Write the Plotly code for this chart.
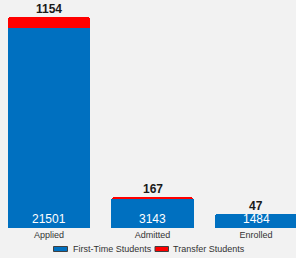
import plotly.graph_objects as go

categories = ["Applied", "Admitted", "Enrolled"]
first_time = [21501, 3143, 1484]
transfer = [1154, 167, 47]
series_names = ["First-Time Students", "Transfer Students"]
totals = [a + b for a, b in zip(first_time, transfer)]

BLUE = "#0070C0"
RED = "#FF0000"
BG = "#F2F2F2"
FONT = "Liberation Sans, Arial, sans-serif"
TXT = "#333333"

fig = go.Figure()
fig.add_trace(go.Bar(
    x=categories, y=first_time, name=series_names[0],
    marker=dict(color=BLUE, line=dict(width=0)), hoverinfo="skip",
))
fig.add_trace(go.Bar(
    x=categories, y=transfer, name=series_names[1],
    marker=dict(color=RED, line=dict(width=0)), hoverinfo="skip",
))

# value labels inside the blue bars (at base)
for c, v in zip(categories, first_time):
    fig.add_annotation(
        x=c, y=0, text=str(v), showarrow=False, yanchor="bottom", yshift=0,
        font=dict(size=12, color="white", family=FONT),
    )
# transfer labels above the stacks
for c, t, v in zip(categories, totals, transfer):
    fig.add_annotation(
        x=c, y=t, text=f"<b>{v}</b>", showarrow=False,
        yanchor="bottom", yshift=-1,
        font=dict(size=12, color="#1A1A1A", family=FONT),
    )

# manual legend (plot area: x 0..296 px, y 0..228 px)
H = 228.0
W = 296.0
def py(p):
    return (H - p) / H
legend_items = [(53.5, 67.5, 71, BLUE, series_names[0]),
                (155, 168.5, 171, RED, series_names[1])]
for x0, x1, tx, col, name in legend_items:
    fig.add_shape(type="rect", xref="paper", yref="paper",
                  x0=x0 / W, x1=x1 / W, y0=py(251.5), y1=py(246.5),
                  fillcolor=col, line=dict(color="#404040", width=1))
    fig.add_annotation(xref="paper", yref="paper", x=tx / W, y=py(249),
                       xanchor="left", yanchor="middle", text=name, showarrow=False,
                       font=dict(size=9, color=TXT, family=FONT))

fig.update_layout(
    width=296, height=258,
    margin=dict(l=0, r=0, t=0, b=30),
    barmode="stack", bargap=0.2, barcornerradius=3,
    paper_bgcolor=BG, plot_bgcolor=BG,
    font=dict(family=FONT, size=9, color=TXT),
    showlegend=False,
    hovermode=False,
    xaxis=dict(range=[-0.4734, 2.3865], showgrid=False, zeroline=False,
               showline=False, ticks="", tickfont=dict(size=9, color=TXT)),
    yaxis=dict(range=[0, 24480], visible=False),
)

fig.write_html("out.html", config={"displayModeBar": False, "staticPlot": True},
               post_script="document.body.style.margin='0';document.body.style.overflow='hidden';")
